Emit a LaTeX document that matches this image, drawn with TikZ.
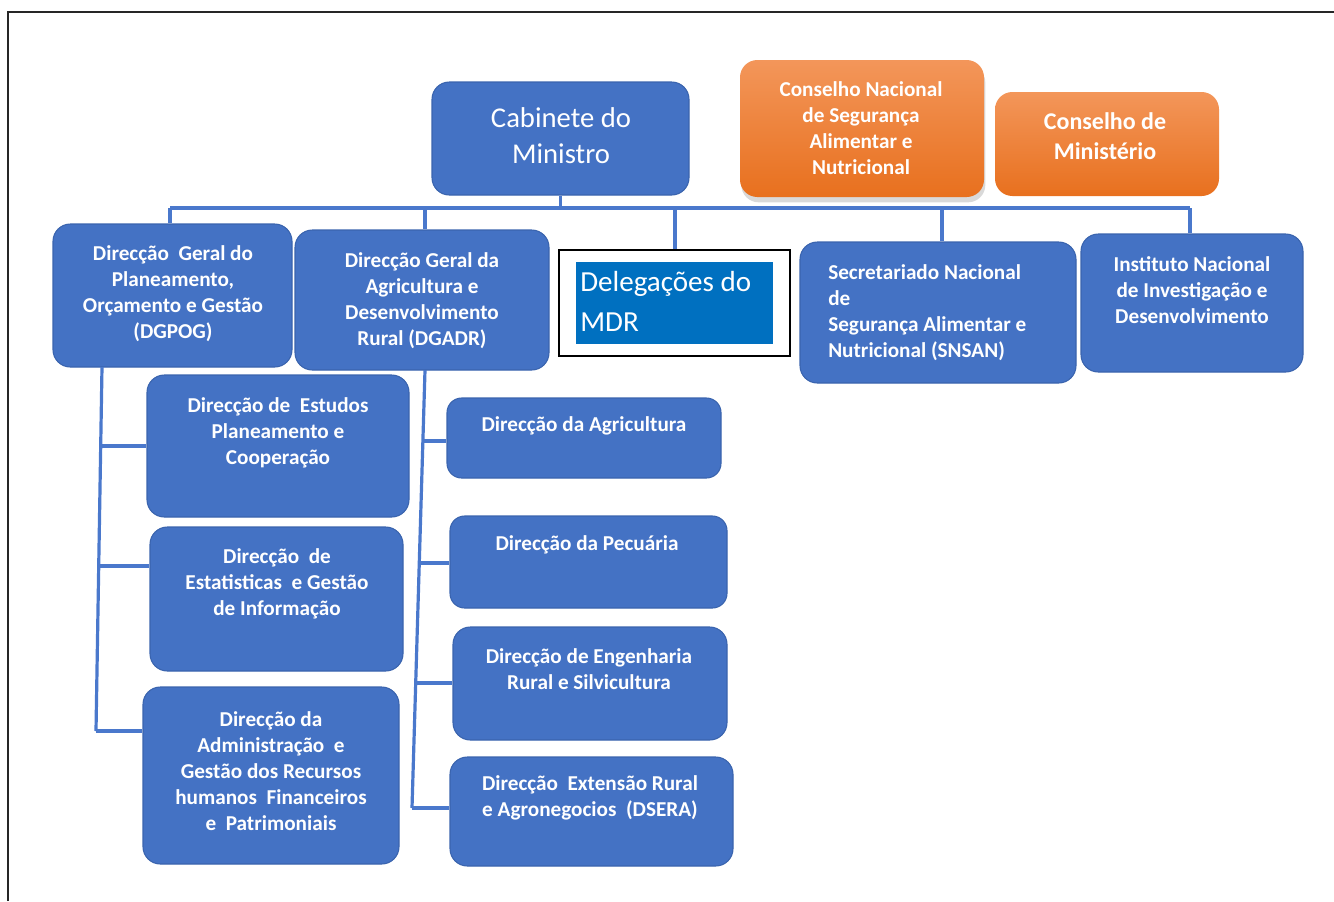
\documentclass[tikz,border=0pt]{standalone}
\usepackage{fontspec}
\setmainfont{Carlito}
\usetikzlibrary{shadows}
\definecolor{boxblue}{HTML}{4472C4}
\definecolor{edgeblue}{HTML}{3A64AE}
\definecolor{linkblue}{HTML}{4A78CC}
\definecolor{orangetop}{HTML}{F3965A}
\definecolor{orangebot}{HTML}{E8701E}
\definecolor{delblue}{HTML}{0070C0}
\definecolor{framegray}{HTML}{262626}
\begin{document}
\begin{tikzpicture}[x=0.75pt,y=-0.75pt,
  bbox/.style={draw=edgeblue, line width=0.8pt, fill=boxblue, rounded corners=13pt, inner sep=0pt},
  obox/.style={draw=none, top color=orangetop, bottom color=orangebot, rounded corners=13pt, inner sep=0pt},
  btext/.style={text=white, font=\fontsize{15.9}{19.5}\selectfont\bfseries, align=center, inner sep=0pt},
  conn/.style={draw=linkblue, line width=2.4pt},
]
\useasboundingbox (0,0) rectangle (1334,901);
\draw[framegray, line width=1.6pt] (8,901) -- (8,12) -- (1334,12);

% boxes
\node[bbox, minimum width=192.75pt, minimum height=84.75pt] (cab) at (560.5,138.5) {};
\node[obox, drop shadow={opacity=0.3, shadow xshift=1pt, shadow yshift=-4pt}, minimum width=183pt, minimum height=102.75pt] (cn1) at (862,128.5) {};
\node[obox, minimum width=168pt, minimum height=78pt] (cm) at (1107,144) {};
\node[bbox, minimum width=179.25pt, minimum height=107.25pt] (dgpog) at (172.5,295.5) {};
\node[bbox, minimum width=190.5pt, minimum height=105pt] (dgadr) at (422,300) {};
\node[draw=black, line width=1.5pt, fill=white, inner sep=0pt, minimum width=173.25pt, minimum height=79.5pt] (del) at (674.5,303) {};
\node[fill=delblue, inner sep=0pt, minimum width=147.75pt, minimum height=61.5pt] (delin) at (674.5,303) {};
\node[bbox, minimum width=207pt, minimum height=105.75pt] (snsan) at (938,312.5) {};
\node[bbox, minimum width=166.5pt, minimum height=103.5pt] (inid) at (1192,303) {};
\node[bbox, minimum width=196.5pt, minimum height=106.5pt] (est) at (278,446) {};
\node[bbox, minimum width=189.75pt, minimum height=108pt] (esta) at (276.5,599) {};
\node[bbox, minimum width=192pt, minimum height=132.75pt] (adm) at (271,775.5) {};
\node[bbox, rounded corners=11pt, minimum width=205.5pt, minimum height=60pt] (agr) at (584,438) {};
\node[bbox, rounded corners=11pt, minimum width=207.75pt, minimum height=69pt] (pec) at (588.5,562) {};
\node[bbox, minimum width=205.5pt, minimum height=84.75pt] (eng) at (590,683.5) {};
\node[bbox, minimum width=212.25pt, minimum height=81.75pt] (ext) at (591.5,811.5) {};

% texts
\node[text=white, font=\fontsize{21.5}{27}\selectfont, align=center, inner sep=0pt] (cabt) at (561,136) {Cabinete do\\Ministro};
\node[btext] (cn1t) at (861,128) {Conselho Nacional\\de Segurança\\Alimentar e\\Nutricional};
\node[btext, font=\fontsize{18}{22.5}\selectfont\bfseries] (cmt) at (1105,136) {Conselho de\\Ministério};
\node[btext] (dgpogt) at (173,294) {Direcção\ \ Geral do\\Planeamento,\\Orçamento e Gestão\\(DGPOG)};
\node[btext] (dgadrt) at (422,300.5) {Direcção Geral da\\Agricultura e\\Desenvolvimento\\Rural (DGADR)};
\node[text=white, font=\fontsize{21.8}{30}\selectfont, align=left, inner sep=0pt, anchor=west] (delt) at (580,301) {Delegações do\\MDR};
\node[btext, align=left, anchor=west] (snsant) at (828,312.5) {Secretariado Nacional\\de\\Segurança Alimentar e\\Nutricional (SNSAN)};
\node[btext] (inidt) at (1192,290) {Instituto Nacional\\de Investigação e\\Desenvolvimento};
\node[btext] (estt) at (278,432.5) {Direcção de\ \ Estudos\\Planeamento e\\Cooperação};
\node[btext] (estat) at (277,583.5) {Direcção\ \ de\\Estatisticas\ \ e Gestão\\de Informação};
\node[btext] (admt) at (271,771) {Direcção da\\Administração\ \ e\\Gestão dos Recursos\\humanos\ \ Financeiros\\e\ \ Patrimoniais};
\node[btext] (agrt) at (584,426) {Direcção da Agricultura};
\node[btext] (pect) at (587,545) {Direcção da Pecuária};
\node[btext] (engt) at (589,669) {Direcção de Engenharia\\Rural e Silvicultura};
\node[btext] (extt) at (590,798) {Direcção\ \ Extensão Rural\\e Agronegocios\ \ (DSERA)};

% top bus
\coordinate (bL) at (170,208);
\coordinate (b2) at (425,208);
\coordinate (b3) at (675,208);
\coordinate (b4) at (942,208);
\coordinate (bR) at (1190,208);
\draw[conn] (bL) -- (bR);
\draw[conn] (cab.south) -- (cab.south |- bL);
\draw[conn] (bL) -- (bL |- dgpog.north);
\draw[conn] (b2) -- (b2 |- dgadr.north);
\draw[conn] (b3) -- (b3 |- del.north);
\draw[conn] (b4) -- (b4 |- snsan.north);
\draw[conn] (bR) -- (bR |- inid.north);

% left trunk
\coordinate (l0) at (102,367);
\coordinate (l1) at (100.7,446);
\coordinate (l2) at (98.7,566);
\coordinate (l3) at (96,731);
\draw[conn] (l0) -- (l3);
\draw[conn] (l1) -- (l1 -| est.west);
\draw[conn] (l2) -- (l2 -| esta.west);
\draw[conn] (l3) -- (l3 -| adm.west);

% right trunk
\coordinate (r0) at (425,370);
\coordinate (r1) at (422.9,441);
\coordinate (r2) at (419.3,563);
\coordinate (r3) at (415.7,683);
\coordinate (r4) at (412,808);
\draw[conn] (r0) -- (r4);
\draw[conn] (r1) -- (r1 -| agr.west);
\draw[conn] (r2) -- (r2 -| pec.west);
\draw[conn] (r3) -- (r3 -| eng.west);
\draw[conn] (r4) -- (r4 -| ext.west);
\end{tikzpicture}
\end{document}
